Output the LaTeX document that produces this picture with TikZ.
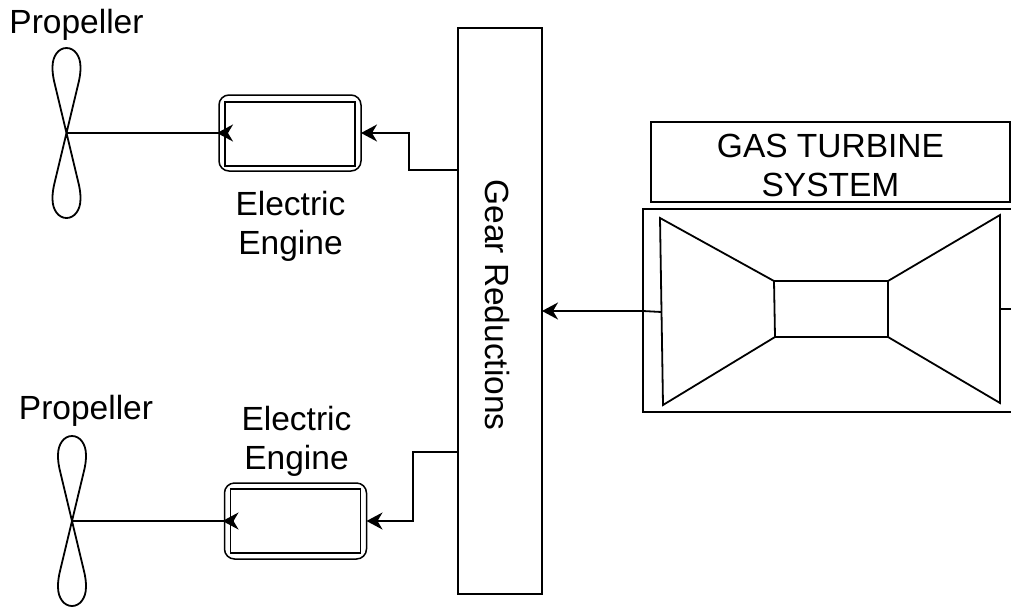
\documentclass[tikz,border=0pt]{standalone}
\usepackage{fontspec}
\setmainfont{Liberation Sans}
\usetikzlibrary{arrows.meta,calc}
\tikzset{
  x=1pt,y=-1pt,
  every path/.style={line width=1.8pt,line join=miter},
  box/.style={draw,minimum width=#1,inner sep=0pt,outer sep=0pt},
  outerengine/.style={draw,rounded corners=10pt,minimum width=142pt,minimum height=76pt,inner sep=0pt,outer sep=0pt,line width=1.5pt},
  innerengine/.style={draw,minimum width=130pt,minimum height=64pt,inner sep=0pt,outer sep=0pt},
  lbl/.style={font=\fontsize{33.5}{39.5}\selectfont,align=center,inner sep=0pt},
  arr/.style={-{Stealth[length=16pt,width=17pt,inset=5pt]}},
}
\newcommand{\myblade}{(0,0) -- (-11.5,-48) .. controls (-13.5,-56) and (-14,-60) .. (-14,-66) .. controls (-14,-77) and (-8,-85) .. (0,-85) .. controls (8,-85) and (14,-77) .. (14,-66) .. controls (14,-60) and (13.5,-56) .. (11.5,-48) -- cycle}
\begin{document}
\begin{tikzpicture}
\useasboundingbox (0,0) rectangle (1011,606);
% gear box
\node[box=84pt,minimum height=566pt] (gear) at (500,311) {};
\node[lbl,rotate=-90] (geartext) at (497,305) {Gear Reductions};
% engines
\node[outerengine] (e1) at (290,133) {};
\node[innerengine] (e1i) at (290,134) {};
\node[outerengine] (e2) at (295.5,521) {};
\node[innerengine] (e2i) at (295.5,521) {};
% propellers
\coordinate (p1) at (66.5,133);
\coordinate (p2) at (72,521);
\draw[shift={(p1)}] \myblade;
\draw[shift={(p1)},yscale=-1] \myblade;
\draw[shift={(p2)}] \myblade;
\draw[shift={(p2)},yscale=-1] \myblade;
% labels
\node[lbl] (pl1) at (76.5,25) {Propeller};
\node[lbl] (pl2) at (86,411) {Propeller};
\node[lbl] (el1) at (290.5,226.5) {Electric\\Engine};
\node[lbl] (el2) at (296.5,441.5) {Electric\\Engine};
% connectors gear to engines
\coordinate (g1) at (gear.west |- 0,170);
\coordinate (g2) at (gear.west |- 0,452);
\coordinate (b1) at (409,170);
\coordinate (b2) at (413,452);
\draw[arr] (g1) -- (b1) -- (b1 |- e1.east) -- (e1.east);
\draw[arr] (g2) -- (b2) -- (b2 |- e2.east) -- (e2.east);
% shafts
\draw (p1) -- (e1.west);
\draw (p2) -- (e2.west);
\draw[arr] ([xshift=8pt]e1.west) -- ([xshift=-2pt]e1.west);
\draw[arr] ([xshift=8pt]e2.west) -- ([xshift=-2pt]e2.west);
% gas turbine
\node[box=359pt,minimum height=80pt,lbl,draw,line width=1.8pt] (title) at (830.5,162) {};
\node[lbl] (titletext) at (830.5,165.5) {GAS TURBINE\\SYSTEM};
\node[box=374pt,minimum height=203pt] (gt) at (830,310.5) {};
\coordinate (a) at (660,218);
\coordinate (b) at (774,281);
\coordinate (c) at (775,337);
\coordinate (d) at (663,405);
\coordinate (f) at (888,281);
\coordinate (g) at (1000,215);
\coordinate (h) at (1000,403);
\coordinate (i) at (888,337);
\draw (a) -- (b) -- (c) -- (d) -- cycle;
\draw (b) -- (f) -- (i) -- (c);
\draw (f) -- (g) -- (h) -- (i);
\coordinate (t1) at (661.5,312);
\coordinate (t2) at (1000,309);
\coordinate (t3) at (1011,309);
\draw (t2) -- (t3);
\draw[arr] (t1) -- (gt.west |- 0,311) -- (gear.east |- 0,311);
\end{tikzpicture}
\end{document}
